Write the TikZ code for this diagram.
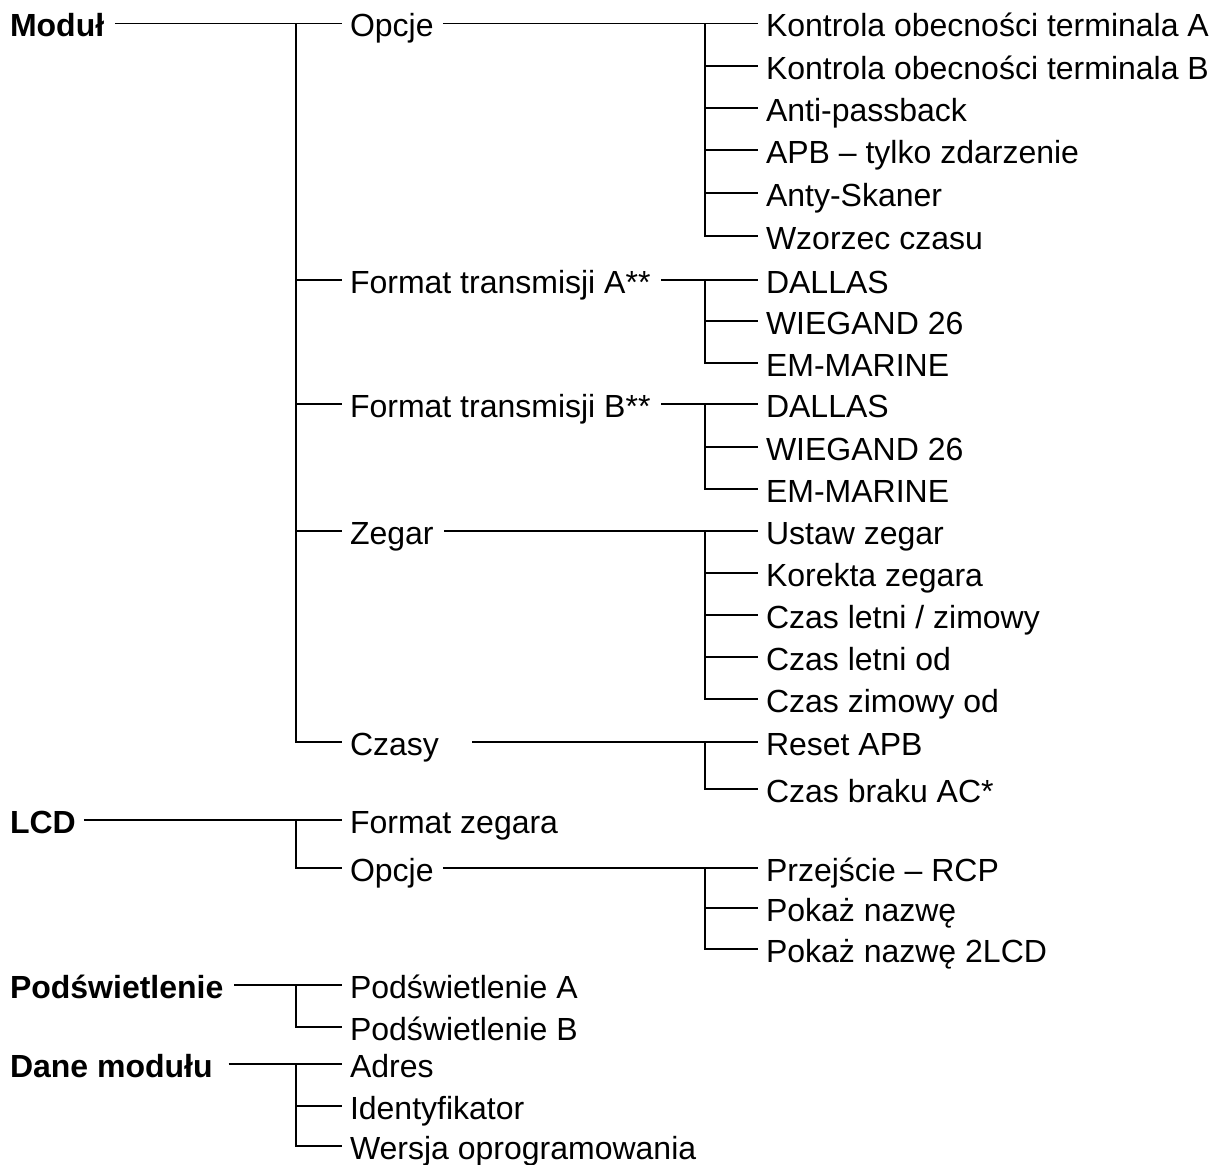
\documentclass[tikz,border=0pt]{standalone}
\usepackage{fontspec}
\setmainfont{Liberation Sans}
\begin{document}
\begin{tikzpicture}[x=0.75pt,y=-0.75pt,
  every node/.style={inner sep=0pt, outer sep=0pt, anchor=west,
    font=\fontsize{24}{28}\selectfont, text height=19.5pt, text depth=0pt},
  topitem/.style={font=\fontsize{24}{28}\selectfont\bfseries},
  conn/.style={line width=1.2pt, draw=black}]
\useasboundingbox (0,0) rectangle (1213,1164);

% level 0
\node[topitem] (m)    at (10,23.5) {Moduł};
\node[topitem] (lcd)  at (10,820)  {LCD};
\node[topitem] (pod)  at (10,985)  {Podświetlenie};
\node[topitem] (dane) at (10,1064) {Dane modułu};

% level 1
\node (opc)   at (350,23.5) {Opcje};
\node (fa)    at (350,280)  {Format transmisji A**};
\node (fb)    at (350,404)  {Format transmisji B**};
\node (zeg)   at (350,531)  {Zegar};
\node (czasy) at (350,742)  {Czasy};
\node (fz)    at (350,820)  {Format zegara};
\node (lopc)  at (350,868)  {Opcje};
\node (pa)    at (350,985)  {Podświetlenie A};
\node (pb)    at (350,1027) {Podświetlenie B};
\node (adr)   at (350,1064) {Adres};
\node (idf)   at (350,1106) {Identyfikator};
\node (wer)   at (350,1146) {Wersja oprogramowania};

% level 2
\node (k1) at (766,23.5) {Kontrola obecności terminala A};
\node (k2) at (766,66)   {Kontrola obecności terminala B};
\node (k3) at (766,108)  {Anti-passback};
\node (k4) at (766,150)  {APB – tylko zdarzenie};
\node (k5) at (766,193)  {Anty-Skaner};
\node (k6) at (766,236)  {Wzorzec czasu};
\node (a1) at (766,280)  {DALLAS};
\node (a2) at (766,321)  {WIEGAND 26};
\node (a3) at (766,363)  {EM-MARINE};
\node (b1) at (766,404)  {DALLAS};
\node (b2) at (766,447)  {WIEGAND 26};
\node (b3) at (766,489)  {EM-MARINE};
\node (z1) at (766,531)  {Ustaw zegar};
\node (z2) at (766,573)  {Korekta zegara};
\node (z3) at (766,615)  {Czas letni / zimowy};
\node (z4) at (766,657)  {Czas letni od};
\node (z5) at (766,699)  {Czas zimowy od};
\node (c1) at (766,742)  {Reset APB};
\node (c2) at (766,789)  {Czas braku AC*};
\node (l1) at (766,868)  {Przejście – RCP};
\node (l2) at (766,908)  {Pokaż nazwę};
\node (l3) at (766,949)  {Pokaż nazwę 2LCD};

\coordinate (T1) at (296,0);
\coordinate (T2) at (705,0);

% level 0 -> level 1
\draw[conn] ([xshift=8pt]m.east) -- ([xshift=-6pt]opc.west);
\draw[conn] (T1 |- opc.west) -- (T1 |- czasy.west) -- ([xshift=-6pt]czasy.west);
\foreach \n in {fa,fb,zeg} \draw[conn] (T1 |- \n.west) -- ([xshift=-6pt]\n.west);

\draw[conn] ([xshift=6pt]lcd.east) -- ([xshift=-6pt]fz.west);
\draw[conn] (T1 |- fz.west) -- (T1 |- lopc.west) -- ([xshift=-6pt]lopc.west);

\draw[conn] ([xshift=8pt]pod.east) -- ([xshift=-6pt]pa.west);
\draw[conn] (T1 |- pa.west) -- (T1 |- pb.west) -- ([xshift=-6pt]pb.west);

\draw[conn] ([xshift=12pt]dane.east) -- ([xshift=-6pt]adr.west);
\draw[conn] (T1 |- adr.west) -- (T1 |- wer.west) -- ([xshift=-6pt]wer.west);
\draw[conn] (T1 |- idf.west) -- ([xshift=-6pt]idf.west);

% level 1 -> level 2
\draw[conn] ([xshift=7pt]opc.east) -- ([xshift=-6pt]k1.west);
\draw[conn] (T2 |- k1.west) -- (T2 |- k6.west) -- ([xshift=-6pt]k6.west);
\foreach \n in {k2,k3,k4,k5} \draw[conn] (T2 |- \n.west) -- ([xshift=-6pt]\n.west);

\draw[conn] ([xshift=8pt]fa.east) -- ([xshift=-6pt]a1.west);
\draw[conn] (T2 |- a1.west) -- (T2 |- a3.west) -- ([xshift=-6pt]a3.west);
\draw[conn] (T2 |- a2.west) -- ([xshift=-6pt]a2.west);

\draw[conn] ([xshift=8pt]fb.east) -- ([xshift=-6pt]b1.west);
\draw[conn] (T2 |- b1.west) -- (T2 |- b3.west) -- ([xshift=-6pt]b3.west);
\draw[conn] (T2 |- b2.west) -- ([xshift=-6pt]b2.west);

\draw[conn] ([xshift=8pt]zeg.east) -- ([xshift=-6pt]z1.west);
\draw[conn] (T2 |- z1.west) -- (T2 |- z5.west) -- ([xshift=-6pt]z5.west);
\foreach \n in {z2,z3,z4} \draw[conn] (T2 |- \n.west) -- ([xshift=-6pt]\n.west);

\draw[conn] ([xshift=25pt]czasy.east) -- ([xshift=-6pt]c1.west);
\draw[conn] (T2 |- c1.west) -- (T2 |- c2.west) -- ([xshift=-6pt]c2.west);

\draw[conn] ([xshift=7pt]lopc.east) -- ([xshift=-6pt]l1.west);
\draw[conn] (T2 |- l1.west) -- (T2 |- l3.west) -- ([xshift=-6pt]l3.west);
\draw[conn] (T2 |- l2.west) -- ([xshift=-6pt]l2.west);
\end{tikzpicture}
\end{document}
